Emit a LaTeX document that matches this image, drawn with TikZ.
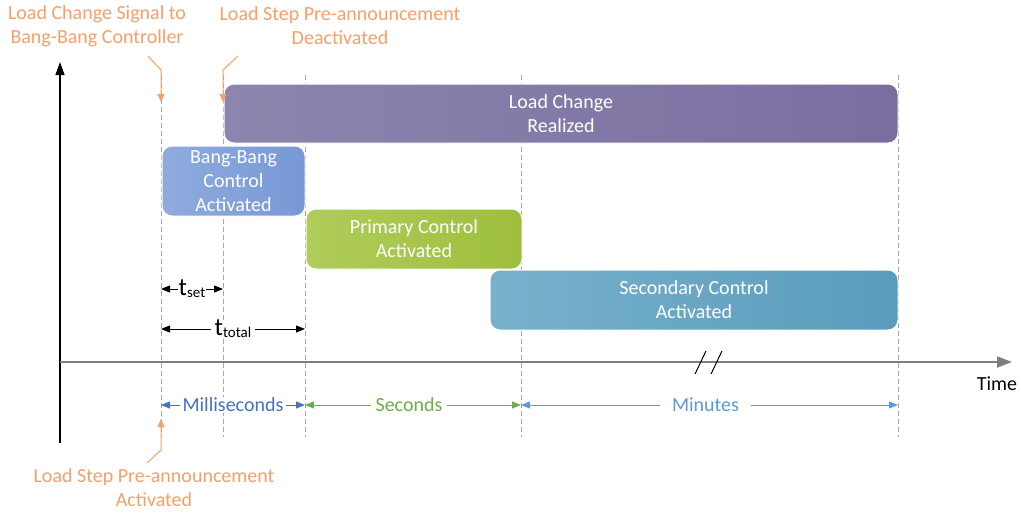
\documentclass[tikz,border=0pt]{standalone}
\usepackage{fontspec}
\setmainfont{Carlito}
\usetikzlibrary{arrows.meta}

\definecolor{callout}{HTML}{F5A06A}
\definecolor{guidegray}{HTML}{A6A6A6}
\definecolor{axisgray}{HTML}{7F7F7F}
\definecolor{msblue}{HTML}{4472C4}
\definecolor{secgreen}{HTML}{70AD47}
\definecolor{minblue}{HTML}{5B9BD5}
\definecolor{purpleA}{HTML}{8D85AE}
\definecolor{purpleB}{HTML}{7A6E9F}
\definecolor{bangA}{HTML}{90ACDE}
\definecolor{bangB}{HTML}{7898D6}
\definecolor{primA}{HTML}{B0CC5A}
\definecolor{primB}{HTML}{9FBF3C}
\definecolor{secA}{HTML}{77B1CC}
\definecolor{secB}{HTML}{5A9CBC}

% time symbol with a subscript
\newcommand{\tsym}[1]{{\fontsize{25}{25}\selectfont t}\raisebox{-2pt}{\fontsize{15}{15}\selectfont #1}}

\tikzset{
  guide/.style={draw=guidegray, dash pattern=on 5pt off 3pt, line width=0.8pt},
  phase/.style={rounded corners=10pt, draw=white, line width=1pt, text=white,
    align=center, inner sep=0pt},
  calltext/.style={text=callout, align=center},
  callline/.style={draw=callout, line width=1pt,
    -{Triangle[width=7pt,length=8pt]}},
  span/.style={line width=1pt, {Triangle[width=7pt,length=9pt]}-{Triangle[width=7pt,length=9pt]}},
  spanlabel/.style={fill=white, inner xsep=4pt, inner ysep=1pt},
}

\begin{document}
\begin{tikzpicture}[x=1pt, y=-1pt, font=\fontsize{20}{24}\selectfont]
\useasboundingbox (0,0) rectangle (1021,514);

% guide lines marking the event instants
\foreach \n/\x in {a/161, b/223, c/305, d/521, e/898} {
  \coordinate (\n top) at (\x,75);
  \coordinate (\n bot) at (\x,437);
  \draw[guide] (\n top) -- (\n bot);
}

% axes
\coordinate (origin) at (60,362);
\coordinate (yend) at (60,62);
\coordinate (ystart) at (60,443);
\coordinate (xend) at (1012,362);
\draw[line width=1.2pt, -{Triangle[width=9pt,length=13pt]}] (ystart) -- (yend);
\draw[axisgray, line width=2pt, -{Triangle[width=11pt,length=15pt]}] (origin) -- (xend);
\node (time) at (997,384) {Time};

% axis break marks
\coordinate (br1a) at (695,374); \coordinate (br1b) at (706,351);
\coordinate (br2a) at (711,374); \coordinate (br2b) at (722,351);
\draw[line width=1pt] (br1a) -- (br1b);
\draw[line width=1pt] (br2a) -- (br2b);

% control phases
\node[phase, left color=purpleA, right color=purpleB,
  minimum width=674pt, minimum height=59pt] (realized) at (561,113.5)
  {Load Change\\Realized};
\node[phase, left color=bangA, right color=bangB,
  minimum width=143pt, minimum height=70pt] (bang) at (233.5,181)
  {Bang-Bang\\Control\\Activated};
\node[phase, left color=primA, right color=primB,
  minimum width=216pt, minimum height=60pt] (primary) at (414,239)
  {Primary Control\\Activated};
\node[phase, left color=secA, right color=secB,
  minimum width=408pt, minimum height=60pt] (secondary) at (694,300)
  {Secondary Control\\Activated};

% timing spans
\coordinate (set1) at (161,289); \coordinate (set2) at (223,289);
\draw[span] (set1) -- node[spanlabel, inner xsep=1pt, inner ysep=0pt] (tset) {\tsym{set}} (set2);
\coordinate (tot1) at (161,329); \coordinate (tot2) at (305,329);
\draw[span] (tot1) -- node[spanlabel, inner ysep=0pt] (ttotal) {\tsym{total}} (tot2);

% time scales
\coordinate (ms1) at (161,405); \coordinate (ms2) at (305,405);
\draw[span, msblue] (ms1) -- node[spanlabel, inner xsep=3pt] (ms) {Milliseconds} (ms2);
\coordinate (s1) at (305,405); \coordinate (s2) at (521,405);
\draw[span, secgreen] (s1) -- node[spanlabel, inner xsep=5pt, xshift=-4pt] (sec) {Seconds} (s2);
\coordinate (m1) at (521,405); \coordinate (m2) at (898,405);
\draw[span, minblue] (m1) -- node[spanlabel, inner xsep=12pt, xshift=-4pt] (min) {Minutes} (m2);

% event callouts
\node[calltext] (signal) at (97,26) {Load Change Signal to\\Bang-Bang Controller};
\node[calltext] (deact) at (340,26) {Load Step Pre-announcement\\Deactivated};
\node[calltext] (act) at (154,488) {Load Step Pre-announcement\\Activated};

\coordinate (sig0) at (148,56); \coordinate (sig1) at (161,70); \coordinate (sig2) at (161,102);
\draw[callline] (sig0) -- (sig1) -- (sig2);
\coordinate (dea0) at (238,56); \coordinate (dea1) at (223,70); \coordinate (dea2) at (223,102);
\draw[callline] (dea0) -- (dea1) -- (dea2);
\coordinate (act0) at (147,463); \coordinate (act1) at (161,450); \coordinate (act2) at (161,419);
\draw[callline] (act0) -- (act1) -- (act2);
\end{tikzpicture}
\end{document}
